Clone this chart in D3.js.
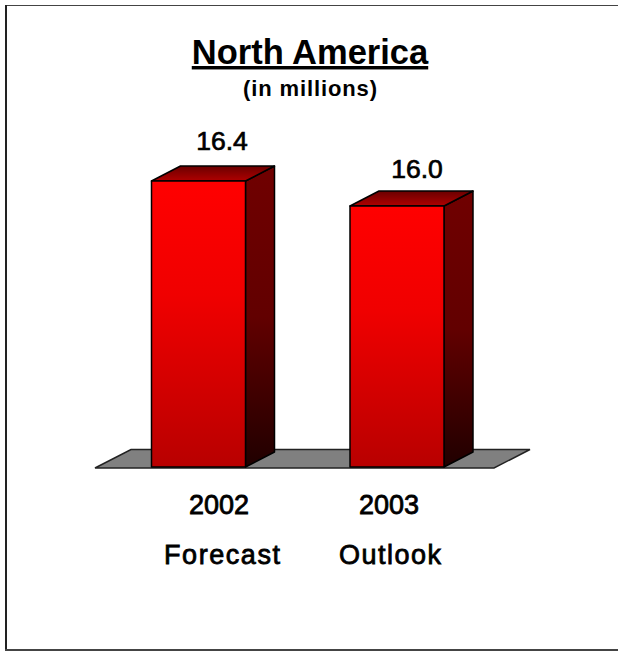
<!DOCTYPE html>
<html><head><meta charset="utf-8">
<script src="https://cdn.jsdelivr.net/npm/d3@7/dist/d3.min.js"></script>
<style>html,body{margin:0;padding:0;background:#fff}svg{display:block}text{font-family:"Liberation Sans",Arial,sans-serif;fill:#000}</style>
</head><body><script>
const categories = ["2002", "2003"];
const subLabels = ["Forecast", "Outlook"];
const values = [16.4, 16.0];
const valueLabels = ["16.4", "16.0"];
const W = 618, H = 653;
const svg = d3.select("body").append("svg").attr("width", W).attr("height", H);
const defs = svg.append("defs");
function grad(id, stops){
  const g = defs.append("linearGradient").attr("id", id).attr("x1",0).attr("x2",0).attr("y1",0).attr("y2",1);
  stops.forEach(([o,c])=>g.append("stop").attr("offset",o).attr("stop-color",c));
}
grad("front",[[0,"#ff0000"],[0.4,"#f00000"],[1,"#b80000"]]);
grad("side",[[0,"#700000"],[0.5,"#620000"],[1,"#200000"]]);
grad("top",[[0,"#6a0000"],[1,"#b00000"]]);

// frame
svg.append("line").attr("x1",5).attr("x2",618).attr("y1",5.5).attr("y2",5.5).attr("stroke","#444");
svg.append("line").attr("x1",6).attr("x2",6).attr("y1",5).attr("y2",650).attr("stroke","#222").attr("stroke-width",2);
svg.append("line").attr("x1",5).attr("x2",618).attr("y1",650).attr("y2",650).attr("stroke","#444").attr("stroke-width",2);

const xc = d3.scalePoint().domain(categories).range([198.5,397]);
const yv = d3.scaleLinear().domain([16.0,16.4]).range([206,181]);
const bw = 94, dx = 29, dy = 15, base = 467;

// floor
svg.append("path").attr("d",`M95,468L131,449.5L530,449.5L494,468Z`).attr("fill","#808080").attr("stroke","#222").attr("stroke-width",1.5);

const labelX = [219, 389], subX = [222, 390], valX = [222, 417], valGap = [31, 28];
const subLen = [116, 102];
categories.forEach((c,i)=>{
  const cx = xc(c), l = cx-bw/2, r = cx+bw/2, t = yv(values[i]), b = base;
  const g = svg.append("g").attr("stroke","#000").attr("stroke-width",1.5).attr("stroke-linejoin","round");
  g.append("path").attr("d",`M${r},${t}L${r+dx},${t-dy}L${r+dx},${b-dy}L${r},${b}Z`).attr("fill","url(#side)");
  g.append("path").attr("d",`M${l},${t}L${l+dx},${t-dy}L${r+dx},${t-dy}L${r},${t}Z`).attr("fill","url(#top)");
  g.append("rect").attr("x",l).attr("y",t).attr("width",bw).attr("height",b-t).attr("fill","url(#front)");
  svg.append("text").attr("x",valX[i]).attr("y",t-valGap[i]).attr("text-anchor","middle").attr("font-size",26.5).attr("stroke","#000").attr("stroke-width",0.7).text(valueLabels[i]);
  svg.append("text").attr("x",labelX[i]).attr("y",514).attr("text-anchor","middle").attr("font-size",27).attr("stroke","#000").attr("stroke-width",0.8).text(c);
  svg.append("text").attr("x",subX[i]).attr("y",564).attr("text-anchor","middle").attr("font-size",27).attr("stroke","#000").attr("stroke-width",0.8).attr("textLength",subLen[i]).attr("lengthAdjust","spacing").text(subLabels[i]);
});
svg.append("text").attr("x",310).attr("y",64).attr("text-anchor","middle").attr("font-size",34.5).attr("font-weight","bold").attr("text-decoration","underline").text("North America");
svg.append("text").attr("x",310).attr("y",96).attr("text-anchor","middle").attr("font-size",22).attr("font-weight","bold").attr("textLength",134).attr("lengthAdjust","spacing").text("(in millions)");
</script></body></html>
